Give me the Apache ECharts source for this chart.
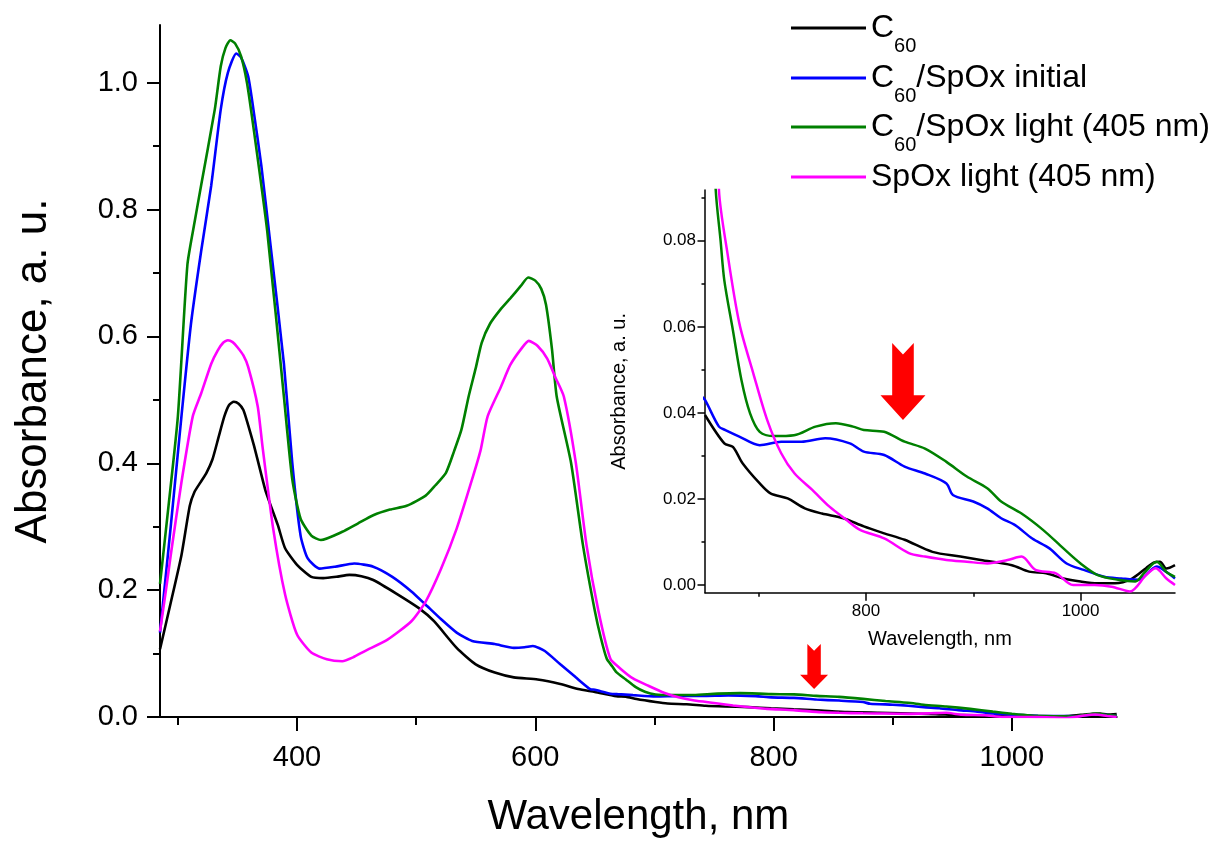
<!DOCTYPE html>
<html>
<head>
<meta charset="utf-8">
<title>Absorbance spectra</title>
<script src="https://cdn.jsdelivr.net/npm/echarts@6/dist/echarts.min.js"></script>
<style>
html, body { margin: 0; padding: 0; background: #fff; }
#main { width: 1216px; height: 843px; }
</style>
</head>
<body>
<div id="main"></div>
<script>
//光谱数据 [波长 nm, 吸光度]
var c60 = [[285,0.107],[294,0.18],[303,0.255],[310,0.333],[314,0.355],[319,0.370],[324,0.385],[329,0.406],[334,0.44],[339,0.474],[343,0.492],[347,0.497],[351,0.494],[355,0.484],[359,0.46],[364,0.427],[369,0.39],[374,0.354],[384,0.302],[390,0.266],[400,0.240],[412,0.221],[422,0.219],[433,0.221],[444,0.224],[454,0.222],[464,0.216],[483,0.195],[502,0.172],[515,0.151],[534,0.109],[550,0.083],[566,0.070],[582,0.0625],[602,0.059],[621,0.052],[636,0.044],[650,0.0395],[668,0.0329],[676,0.0321],[685,0.0283],[701,0.0236],[711,0.0213],[727,0.0201],[743,0.0178],[759,0.0166],[779,0.0155],[798,0.0136],[817,0.0120],[836,0.0105],[862,0.0077],[888,0.0066],[907,0.0058],[936,0.0046],[952,0.0031],[968,0.0027],[984,0.0015],[1000,0.0008],[1016,0.0004],[1032,0.0004],[1048,0.0015],[1061,0.0039],[1068,0.0052],[1074,0.0054],[1080,0.0038],[1088,0.0046]];
var c60SpOxInitial = [[285,0.133],[294,0.30],[303,0.474],[311,0.62],[319.5,0.734],[328,0.838],[336,0.958],[342,1.016],[349,1.046],[353,1.040],[359,1.010],[364,0.95],[370,0.870],[378,0.740],[389,0.557],[396,0.401],[403,0.286],[409,0.25],[419,0.234],[432,0.237],[448,0.242],[464,0.237],[480,0.221],[496,0.198],[508,0.177],[521,0.154],[534,0.133],[547,0.120],[566,0.115],[582,0.109],[591,0.110],[598,0.112],[608,0.104],[621,0.083],[634,0.0625],[646,0.044],[650,0.0430],[663,0.0368],[669,0.0360],[682,0.0345],[701,0.0325],[721,0.0333],[740,0.0333],[762,0.0341],[785,0.0329],[798,0.0310],[817,0.0302],[836,0.0275],[855,0.0259],[875,0.0236],[881,0.0209],[900,0.0194],[913,0.0178],[926,0.0155],[939,0.0139],[955,0.0108],[971,0.0085],[987,0.0050],[1003,0.0035],[1022,0.0019],[1038,0.0015],[1054,0.0012],[1071,0.0043],[1080,0.0030],[1088,0.0015]];
var c60SpOxLight = [[285,0.21],[292,0.33],[300,0.474],[308,0.713],[314,0.78],[319.5,0.838],[331,0.958],[336,1.026],[340,1.055],[344,1.067],[348,1.062],[353,1.042],[358,1.0],[364,0.922],[375,0.766],[389,0.505],[396,0.375],[403,0.3125],[412,0.286],[420,0.279],[438,0.292],[451,0.305],[464,0.318],[478,0.327],[492,0.333],[508,0.349],[516,0.365],[525,0.385],[532,0.42],[538,0.453],[544,0.505],[550,0.55],[555,0.59],[562,0.62],[571,0.643],[579,0.66],[588,0.68],[594,0.693],[600,0.688],[605,0.675],[609,0.65],[614,0.58],[618,0.505],[630,0.401],[640,0.271],[650,0.167],[655,0.125],[660,0.0918],[664.5,0.0801],[668,0.0708],[676,0.0592],[684,0.0476],[692,0.0399],[701,0.0356],[714,0.0346],[733,0.0348],[753,0.0368],[772,0.0376],[788,0.0368],[798,0.0360],[817,0.0356],[836,0.0333],[855,0.0317],[875,0.0286],[894,0.0252],[913,0.0225],[926,0.0194],[945,0.0166],[965,0.0128],[984,0.0085],[1000,0.0050],[1016,0.0023],[1035,0.0012],[1051,0.0008],[1060,0.0030],[1071,0.0054],[1080,0.0030],[1088,0.0019]];
var spOxLight = [[285,0.135],[290,0.20],[294,0.255],[303,0.37],[312.5,0.474],[319.5,0.510],[328,0.557],[333.5,0.578],[338,0.59],[342,0.594],[346,0.591],[350,0.583],[355,0.57],[359,0.552],[367,0.490],[371,0.427],[380,0.297],[390,0.193],[400,0.130],[412,0.1016],[425,0.091],[438,0.088],[447,0.094],[457,0.104],[476,0.122],[496,0.151],[508,0.182],[521,0.234],[534,0.297],[547,0.375],[554,0.42],[560,0.474],[571,0.52],[579,0.555],[588,0.58],[594.5,0.593],[602,0.585],[610,0.565],[617,0.535],[624,0.505],[634,0.401],[643,0.271],[653,0.167],[663,0.0918],[671,0.0770],[682,0.0608],[695,0.0492],[708,0.0383],[721,0.0306],[733.5,0.0259],[750,0.0221],[766,0.0182],[782,0.0151],[794.5,0.0128],[817,0.0108],[840,0.0074],[855,0.0066],[875,0.0058],[894,0.0054],[913,0.0050],[932,0.0058],[945,0.0066],[958,0.0035],[977,0.0027],[993,0.0],[1013,0.0],[1029,-0.0004],[1046,-0.0015],[1061,0.0023],[1070,0.0039],[1080,0.0015],[1088,0.0]];

var seriesNames = ['C60', 'C60/SpOx initial', 'C60/SpOx light (405 nm)', 'SpOx light (405 nm)'];
var seriesColors = ['#000000', '#0000ff', '#008000', '#ff00ff'];

//刻度
var mainXLabels = [400, 600, 800, 1000];
var mainXMinor = [300, 500, 700, 900];
var mainYLabels = [0, 0.2, 0.4, 0.6, 0.8, 1.0];
var mainYMinor = [0.1, 0.3, 0.5, 0.7, 0.9];
var insetXLabels = [800, 1000];
var insetXMinor = [700, 900];
var insetYLabels = [0, 0.02, 0.04, 0.06, 0.08];
var insetYMinor = [0.01, 0.03, 0.05, 0.07, 0.09];

//红色箭头位置 (数据坐标)
var mainArrow = [834, 0.0795];
var insetArrow = [834.5, 0.0473];

var FONT = "'Liberation Sans', Arial, sans-serif";
var ARROW = 'path://M26,0 L50,15 L74,0 L74,68 L100,68 L50,100 L0,68 L26,68 Z';

//坐标轴: labels 为空时只画短刻度(次刻度)
var makeAxis = function(gridIndex, min, max, position, ticks, labels, tickLen, lineW, fontSize, margin, digits) {
	var axis = {
		type: 'value',
		gridIndex: gridIndex,
		min: min,
		max: max,
		position: position,
		axisLine: { show: !!labels, onZero: false, lineStyle: { color: '#000', width: lineW } },
		axisTick: { show: true, inside: false, length: tickLen, customValues: ticks, lineStyle: { color: '#000', width: lineW } },
		splitLine: { show: false },
		axisLabel: { show: false }
	};
	if(labels) {
		axis.axisLabel = {
			show: true,
			customValues: labels,
			margin: margin,
			color: '#000',
			fontFamily: FONT,
			fontSize: fontSize,
			formatter: function(v) {
				return v.toFixed(digits);
			}
		};
	}
	return axis;
};

var xMain = makeAxis(0, 285, 1088, 'bottom', mainXLabels, mainXLabels, 14, 2, 29, 26, 0);
xMain.name = 'Wavelength, nm';
xMain.nameLocation = 'middle';
xMain.nameGap = 79;
xMain.nameTextStyle = { fontFamily: FONT, fontSize: 42, color: '#000' };

var yMain = makeAxis(0, 0, 1.091, 'left', mainYLabels, mainYLabels, 13, 2, 29, 22, 1);
yMain.name = 'Absorbance, a. u.';
yMain.nameLocation = 'middle';
yMain.nameGap = 104;
yMain.nameTextStyle = { fontFamily: FONT, fontSize: 44, color: '#000' };

var xInset = makeAxis(1, 650, 1088, 'bottom', insetXLabels, insetXLabels, 8, 1.5, 17, 10, 0);
xInset.name = 'Wavelength, nm';
xInset.nameLocation = 'middle';
xInset.nameGap = 37;
xInset.nameTextStyle = { fontFamily: FONT, fontSize: 20, color: '#000' };

var yInset = makeAxis(1, -0.0018, 0.0918, 'left', insetYLabels, insetYLabels, 7.5, 1.5, 17, 9, 2);
yInset.name = 'Absorbance, a. u.';
yInset.nameLocation = 'middle';
yInset.nameGap = 76;
yInset.nameTextStyle = { fontFamily: FONT, fontSize: 20, color: '#000' };

var xAxes = [
	xMain,
	makeAxis(0, 285, 1088, 'bottom', mainXMinor, null, 8, 2),
	xInset,
	makeAxis(1, 650, 1088, 'bottom', insetXMinor, null, 4, 1.5)
];
var yAxes = [
	yMain,
	makeAxis(0, 0, 1.091, 'left', mainYMinor, null, 7, 2),
	yInset,
	makeAxis(1, -0.0018, 0.0918, 'left', insetYMinor, null, 3.5, 1.5)
];

var allData = [c60, c60SpOxInitial, c60SpOxLight, spOxLight];
var series = [];
for(var i = 0; i < allData.length; i++) {
	series.push({
		name: seriesNames[i],
		type: 'line',
		xAxisIndex: 0,
		yAxisIndex: 0,
		data: allData[i],
		symbol: 'none',
		smooth: 0.2,
		lineStyle: { color: seriesColors[i], width: 2.6 },
		itemStyle: { color: seriesColors[i] }
	});
}
for(var j = 0; j < allData.length; j++) {
	series.push({
		name: seriesNames[j],
		type: 'line',
		xAxisIndex: 2,
		yAxisIndex: 2,
		data: allData[j].filter(function(p) {
			return p[0] >= 640;
		}),
		symbol: 'none',
		smooth: 0.3,
		lineStyle: { color: seriesColors[j], width: 2.5 },
		itemStyle: { color: seriesColors[j] }
	});
}

var arrowMark = function(coord, size) {
	return {
		silent: true,
		symbol: ARROW,
		symbolSize: size,
		label: { show: false },
		itemStyle: { color: '#ff0000' },
		data: [{ coord: coord }]
	};
};
series[0].markPoint = arrowMark(mainArrow, [28, 45]);
series[4].markPoint = arrowMark(insetArrow, [45, 77]);

//图例: 每项单独定位, C60 下标用 rich
var legendTops = [0, 50, 99, 159];
var legendFmt = [
	'{n|C}{s|60}',
	'{n|C}{s|60}{n|/SpOx initial}',
	'{n|C}{s|60}{n|/SpOx light (405 nm)}',
	'{n|SpOx light (405 nm)}'
];
var legends = [];
for(var k = 0; k < 4; k++) {
	(function(idx) {
		legends.push({
			data: [{ name: seriesNames[idx], icon: 'rect' }],
			left: 791,
			top: legendTops[idx],
			orient: 'vertical',
			padding: 0,
			itemWidth: 75,
			itemHeight: 3,
			selectedMode: false,
			formatter: function() {
				return legendFmt[idx];
			},
			textStyle: {
				color: '#000',
				fontFamily: FONT,
				fontSize: 32,
				lineHeight: 36,
				rich: {
					n: { fontFamily: FONT, fontSize: 32, lineHeight: 36, color: '#000', verticalAlign: 'middle' },
					s: { fontFamily: FONT, fontSize: 20, lineHeight: 20, color: '#000', padding: [36, 0, 0, 0], verticalAlign: 'middle' }
				}
			}
		});
	})(k);
}

var chart = echarts.init(document.getElementById('main'));
chart.setOption({
	animation: false,
	backgroundColor: '#fff',
	legend: legends,
	grid: [
		{ left: 160, top: 25, width: 956.7, height: 698.3 },
		{ left: 705, top: 190, width: 470, height: 402.7 }
	],
	xAxis: xAxes,
	yAxis: yAxes,
	series: series
});
</script>
</body>
</html>
